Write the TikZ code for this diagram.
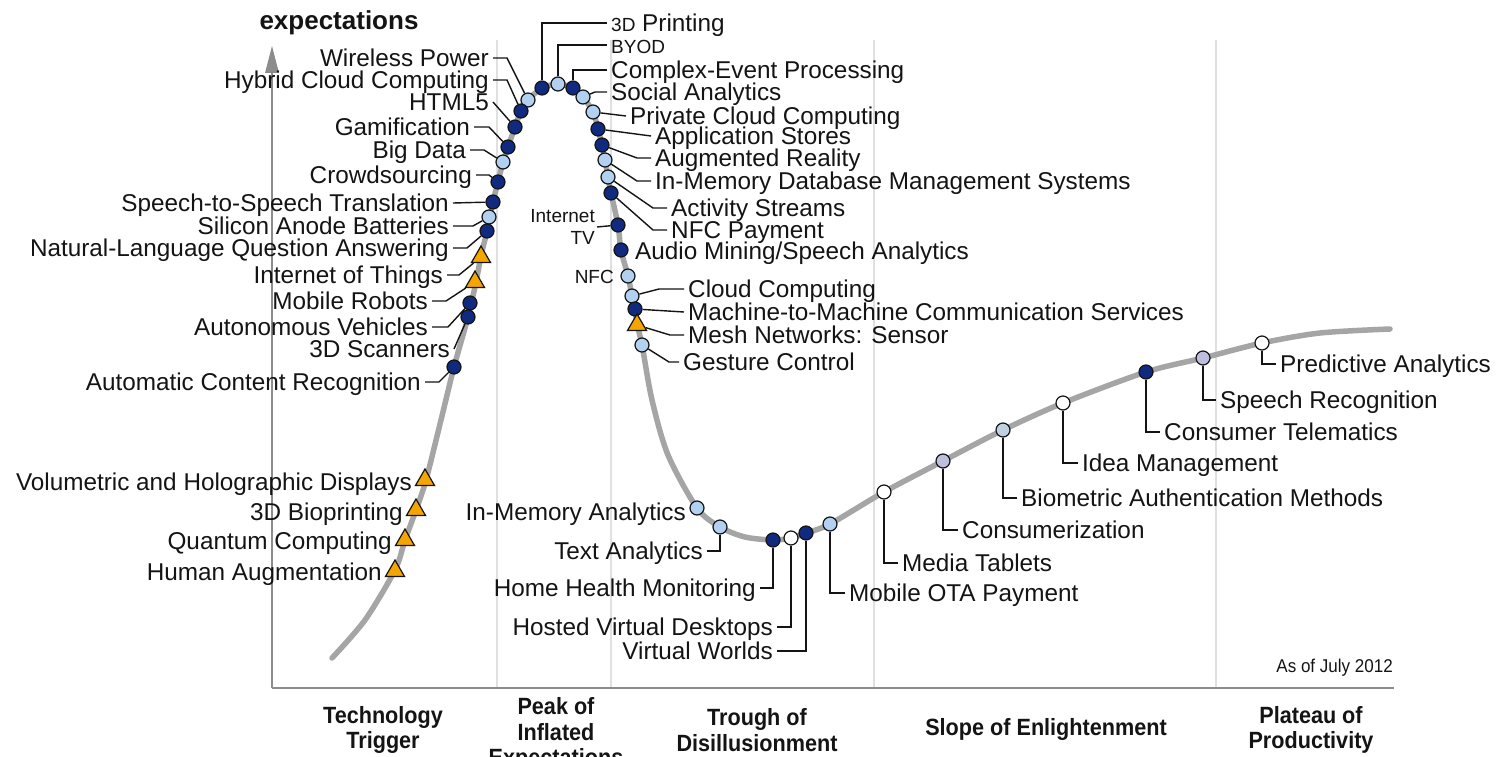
\documentclass[tikz,border=0pt]{standalone}
\usepackage{fontspec}
\setmainfont{Liberation Sans}
\newfontfamily\phasefont[FakeStretch=0.92]{Liberation Sans}
\usetikzlibrary{shapes.geometric}
\newcommand\labfont{\fontsize{24.3pt}{26pt}\selectfont}
\newcommand\smlfont{\fontsize{19pt}{22pt}\selectfont}
\newcommand\phfont{\phasefont\bfseries\fontsize{23.5pt}{25.5pt}\selectfont}
\definecolor{dkblue}{RGB}{16,42,128}
\definecolor{ltblue}{RGB}{178,208,240}
\definecolor{lav}{RGB}{190,190,222}
\definecolor{gblue}{RGB}{190,208,226}
\definecolor{orng}{RGB}{245,165,0}
\definecolor{curvegray}{RGB}{165,165,165}
\definecolor{gridgray}{RGB}{224,224,224}
\definecolor{axisgray}{RGB}{140,140,140}
\definecolor{txt}{RGB}{20,20,20}
\tikzset{
  mark0/.style={circle, draw=txt, line width=1.2pt, minimum size=14pt, inner sep=0pt},
  dk/.style={mark0, fill=dkblue},
  lt/.style={mark0, fill=ltblue},
  wt/.style={mark0, fill=white},
  lv/.style={mark0, fill=lav},
  gb/.style={mark0, fill=gblue},
  tri/.style={regular polygon, regular polygon sides=3, draw=txt, line width=1.2pt, fill=orng, minimum size=22pt, inner sep=0pt},
  lab/.style={inner xsep=4pt, inner ysep=0pt, text height=17pt, text depth=0pt, font=\labfont, text=txt},
  labl/.style={lab, anchor=east},
  labr/.style={lab, anchor=west},
  con/.style={draw=txt, line width=1.4pt},
  grid0/.style={draw=gridgray, line width=2pt},
  phase/.style={font=\phfont, align=center, text=txt, inner sep=0pt},
}
\begin{document}
\begin{tikzpicture}[x=1pt,y=-1pt]
\path[use as bounding box, fill=white] (0,0) rectangle (1499,757);
\clip (0,0) rectangle (1499,757);
% grid lines
\foreach \gx in {497,611,874,1216} \draw[grid0] (\gx,40) -- (\gx,688);
% axes
\draw[axisgray, line width=2pt] (272,688) -- (272,66);
\draw[axisgray, line width=2pt] (272,688) -- (1394,688);
\fill[axisgray] (272,46) -- (279,73) -- (265,73) -- cycle;
\node[font=\bfseries\fontsize{26pt}{28pt}\selectfont, text=txt, inner sep=0pt] (yl) at (339,23) {expectations};
% curve
\draw[curvegray, line width=5.5pt, line cap=round] plot[smooth, tension=0.5] coordinates {
(332,658) (365,620) (395,570) (405,540) (416,510) (426,480) (441,420) (454,367)
(468,317) (476,282) (481,256) (487,231) (493,202) (498,182) (503,162) (508,147)
(515,127) (521,111) (528,100) (542,88) (558,84) (573,88) (583,97) (593,112)
(598,129) (602,145) (605,160) (608,177) (611,193) (618,225) (621,250) (628,276)
(632,296) (635,309) (637,324) (642,345) (652,400) (668,455) (697,508) (720,527)
(745,537) (773,540) (791,538) (806,533) (830,524) (884,492) (943,461) (1003,430)
(1063,403) (1146,372) (1203,358) (1262,343) (1320,333) (1390,329)};
% markers
\node[lt] (dWP) at (528,100) {};
\node[dk] (dHC) at (521,111) {};
\node[dk] (dH5) at (515,127) {};
\node[dk] (dGa) at (508,147) {};
\node[lt] (dBD) at (503,162) {};
\node[dk] (dCS) at (498,182) {};
\node[dk] (dSS) at (493,202) {};
\node[lt] (dSA) at (489,217) {};
\node[dk] (dNL) at (487,231) {};
\node[tri] (tIo) at (481,257) {};
\node[tri] (tMR) at (475,282) {};
\node[dk] (dAV) at (470,303) {};
\node[dk] (d3S) at (468,317) {};
\node[dk] (dAC) at (454,367) {};
\node[tri] (tVH) at (425,480) {};
\node[tri] (tBP) at (416,510) {};
\node[tri] (tQC) at (405,540) {};
\node[tri] (tHA) at (395,571) {};
\node[dk] (d3D) at (542,88) {};
\node[lt] (dBY) at (558,84) {};
\node[dk] (dCE) at (573,88) {};
\node[lt] (dSo) at (583,97) {};
\node[lt] (dPC) at (593,112) {};
\node[dk] (dAS) at (598,129) {};
\node[dk] (dAR) at (602,145) {};
\node[lt] (dIM) at (605,160) {};
\node[lt] (dAc) at (608,177) {};
\node[dk] (dNP) at (611,193) {};
\node[dk] (dIT) at (618,225) {};
\node[dk] (dAM) at (621,250) {};
\node[lt] (dNF) at (628,276) {};
\node[lt] (dCC) at (632,296) {};
\node[dk] (dMM) at (635,309) {};
\node[tri] (tMN) at (637,325) {};
\node[lt] (dGC) at (642,345) {};
\node[lt] (dIA) at (697,508) {};
\node[lt] (dTA) at (720,527) {};
\node[dk] (dHH) at (773,540) {};
\node[wt] (dHV) at (791,538) {};
\node[dk] (dVW) at (806,533) {};
\node[lt] (dMO) at (830,524) {};
\node[wt] (dMT) at (884,492) {};
\node[lv] (dCz) at (943,461) {};
\node[gb] (dBA) at (1003,430) {};
\node[wt] (dID) at (1063,403) {};
\node[dk] (dCT) at (1146,372) {};
\node[lv] (dSR) at (1203,358) {};
\node[wt] (dPA) at (1262,343) {};
% left labels
\node[labl] (lWP) at (493,58) {Wireless Power};
\node[labl] (lHC) at (493,80) {Hybrid Cloud Computing};
\node[labl] (lH5) at (493,102) {HTML5};
\node[labl] (lGa) at (474,127) {Gamification};
\node[labl] (lBD) at (470,150) {Big Data};
\node[labl] (lCS) at (476,175) {Crowdsourcing};
\node[labl] (lSS) at (453,203) {Speech-to-Speech Translation};
\node[labl] (lSA) at (453,226) {Silicon Anode Batteries};
\node[labl] (lNL) at (453,248) {Natural-Language Question Answering};
\node[labl] (lIo) at (447,275) {Internet of Things};
\node[labl] (lMR) at (432,301) {Mobile Robots};
\node[labl] (lAV) at (432,327) {Autonomous Vehicles};
\node[labl] (l3S) at (454,349) {3D Scanners};
\node[labl] (lAC) at (425,382) {Automatic Content Recognition};
\node[labl] (lVH) at (416,482) {Volumetric and Holographic Displays};
\node[labl] (lBP) at (407,512) {3D Bioprinting};
\node[labl] (lQC) at (396,541) {Quantum Computing};
\node[labl] (lHA) at (386,572) {Human Augmentation};
\node[labl] (lIA) at (690,512) {In-Memory Analytics};
\node[labl] (lTA) at (707,551) {Text Analytics};
\node[labl] (lHH) at (760,588) {Home Health Monitoring};
\node[labl] (lHV) at (777,627) {Hosted Virtual Desktops};
\node[labl] (lVW) at (777,651) {Virtual Worlds};
\node[lab, font=\smlfont, text height=13pt, anchor=east] (lNF) at (618,277) {NFC};
\node[font=\smlfont, align=right, inner sep=2pt, anchor=east, text=txt] (lIT) at (597,227) {Internet\\TV};
% right labels
\node[labr] (l3D) at (607,23) {{\smlfont 3D} Printing};
\node[labr] (lBY) at (607,45) {{\smlfont BYOD}};
\node[labr] (lCE) at (607,70) {Complex-Event Processing};
\node[labr] (lSo) at (607,92) {Social Analytics};
\node[labr] (lPC) at (626,116) {Private Cloud Computing};
\node[labr] (lAS) at (651,136) {Application Stores};
\node[labr] (lAR) at (651,158) {Augmented Reality};
\node[labr] (lIM) at (651,181) {In-Memory Database Management Systems};
\node[labr] (lAc) at (667,208) {Activity Streams};
\node[labr] (lNP) at (667,230) {NFC Payment};
\node[labr] (lAM) at (631,251) {Audio Mining/Speech Analytics};
\node[labr] (lCC) at (684,289) {Cloud Computing};
\node[labr] (lMM) at (684,312) {Machine-to-Machine Communication Services};
\node[labr] (lMN) at (684,335) {Mesh Networks: Sensor};
\node[labr] (lGC) at (679,362) {Gesture Control};
\node[labr] (lMO) at (845,593) {Mobile OTA Payment};
\node[labr] (lMT) at (898,563) {Media Tablets};
\node[labr] (lCz) at (958,530) {Consumerization};
\node[labr] (lBA) at (1017,498) {Biometric Authentication Methods};
\node[labr] (lID) at (1078,463) {Idea Management};
\node[labr] (lCT) at (1160,432) {Consumer Telematics};
\node[labr] (lSR) at (1216,400) {Speech Recognition};
\node[labr] (lPA) at (1276,364) {Predictive Analytics};
% connectors left rise
\draw[con] (lWP.east) -- ++(14,0) -- (dWP);
\draw[con] (lHC.east) -- ++(14,0) -- (dHC);
\draw[con] (lH5.east) -- (dH5);
\draw[con] (lGa.east) -- ++(15,0) -- (dGa);
\draw[con] (lBD.east) -- ++(14,0) -- (dBD);
\draw[con] (lCS.east) -- ++(13,0) -- (dCS);
\draw[con] (lSS.east) -- (dSS);
\draw[con] (lSA.east) -- ++(20,0) -- (dSA);
\draw[con] (lNL.east) -- ++(14,0) -- (dNL);
\draw[con] (lIo.east) -- ++(12,0) -- (tIo);
\draw[con] (lMR.east) -- ++(14,0) -- (tMR);
\draw[con] (lAV.east) -- ++(16,0) -- (dAV);
\draw[con] (l3S.east) -- (d3S);
\draw[con] (lAC.east) -- ++(14,0) -- (dAC);
% connectors peak
\draw[con] (d3D) |- (l3D.west);
\draw[con] (dBY) |- (lBY.west);
\draw[con] (dCE) |- (lCE.west);
\draw[con] (lSo.west) -- ++(-12,0) -- (dSo);
\draw[con] (lPC.west) -- (dPC);
\draw[con] (lAS.west) -- (dAS);
\draw[con] (lAR.west) -- ++(-14,0) -- (dAR);
\draw[con] (lIM.west) -- ++(-14,0) -- (dIM);
\draw[con] (lAc.west) -- ++(-14,0) -- (dAc);
\draw[con] (lNP.west) -- ++(-14,0) -- (dNP);
\draw[con] (lIT.east) -- (dIT);
\draw[con] (lCC.west) -- ++(-25,0) -- (dCC);
\draw[con] (lMM.west) -- (dMM);
\draw[con] (lMN.west) -- ++(-14,0) -- (tMN);
\draw[con] (lGC.west) -- ++(-10,0) -- (dGC);
% connectors trough and slope
\draw[con] (dTA) |- (lTA.east);
\draw[con] (dHH) |- (lHH.east);
\draw[con] (dHV) |- (lHV.east);
\draw[con] (dVW) |- (lVW.east);
\draw[con] (dMO) |- (lMO.west);
\draw[con] (dMT) |- (lMT.west);
\draw[con] (dCz) |- (lCz.west);
\draw[con] (dBA) |- (lBA.west);
\draw[con] (dID) |- (lID.west);
\draw[con] (dCT) |- (lCT.west);
\draw[con] (dSR) |- (lSR.west);
\draw[con] (dPA) |- (lPA.west);
% notes and phases
\node[font=\phasefont\fontsize{18.5pt}{20pt}\selectfont, text=txt, anchor=east, inner sep=0pt] (asof) at (1393,668) {As of July 2012};
\node[phase] (ph1) at (383,730) {Technology\\Trigger};
\node[phase] (ph2) at (556,734) {Peak of\\Inflated\\Expectations};
\node[phase] (ph3) at (757,730) {Trough of\\Disillusionment};
\node[phase] (ph4) at (1046,729) {Slope of Enlightenment};
\node[phase] (ph5) at (1311,730) {Plateau of\\Productivity};
\end{tikzpicture}
\end{document}
